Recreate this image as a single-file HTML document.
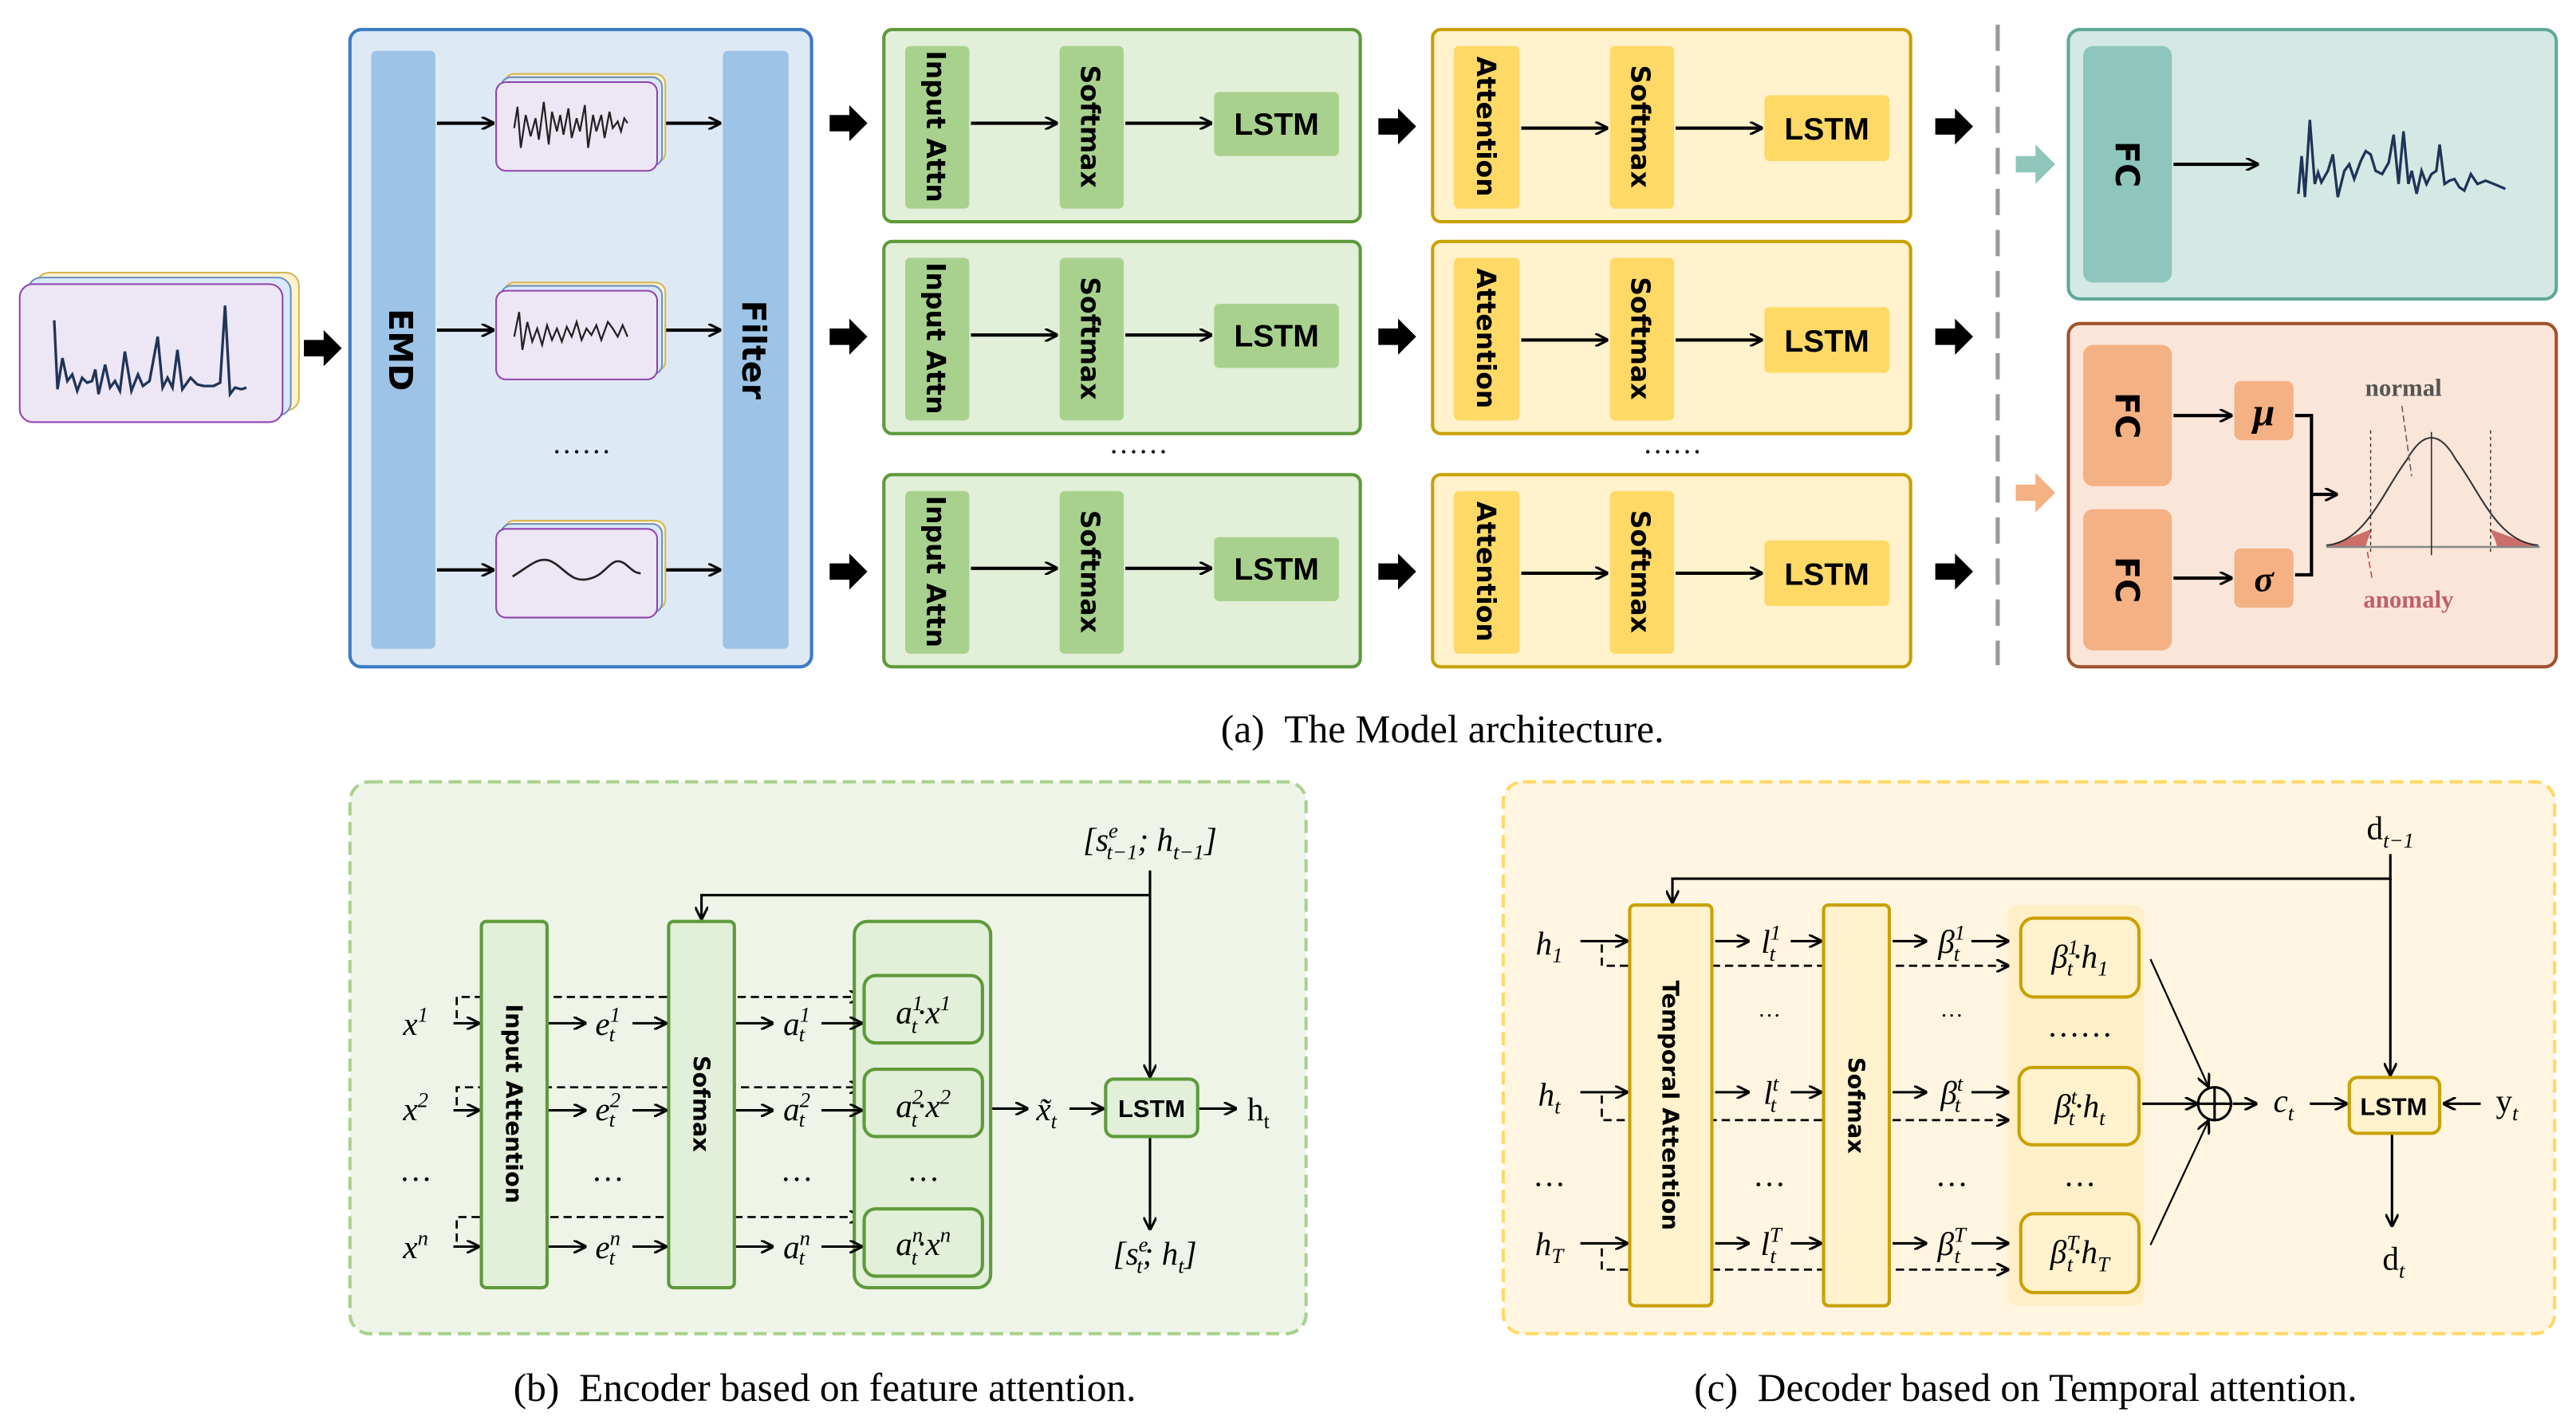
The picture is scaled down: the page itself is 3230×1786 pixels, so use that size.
<!DOCTYPE html>
<html><head><meta charset="utf-8"><style>
html,body{margin:0;padding:0;background:#fff}
svg{display:block}
.ss{font-family:"DejaVu Sans","Liberation Sans",sans-serif;font-weight:bold}
.ln{font-family:"Liberation Sans",sans-serif;font-weight:bold}
.tm{font-family:"Liberation Serif",serif}
.it{font-family:"Liberation Serif",serif;font-style:italic}
</style></head><body>
<svg width="3230" height="1786" viewBox="0 0 1568 867" xmlns="http://www.w3.org/2000/svg">
<defs>
<marker id="a" markerWidth="8" markerHeight="8" refX="7" refY="4" orient="auto" markerUnits="userSpaceOnUse"><path d="M0,0 L8,4 L0,8" fill="none" stroke="#000" stroke-width="1.5"/></marker>
<g id="blk"><polygon points="0,-5 12,-5 12,-11 23,0 12,11 12,5 0,5" fill="#000"/></g>
</defs>

<!-- input stack -->
<rect x="22" y="166" width="160" height="84" rx="8" fill="#fff2cc" stroke="#d6b656"/>
<rect x="17" y="169" width="160" height="84" rx="8" fill="#dae8fc" stroke="#6c8ebf"/>
<rect x="12" y="173" width="160" height="84" rx="8" fill="#ede6f5" stroke="#8e44ad"/>
<polyline points="33,195 35,237 38,218 41,232 44,228 47,238 50,230 53,233 56,232 58,225 60,240 64,222 67,236 70,232 73,238 76,214 80,238 84,228 87,235 91,232 96,205 99,236 102,230 105,236 108,213 111,237 116,230 120,234 124,235 127,235 130,235 134,233 137,186 140,240 143,236 147,237 150,236" fill="none" stroke="#1f3458" stroke-width="1.6"/>
<use href="#blk" transform="translate(185,212)"/>

<!-- blue box -->
<rect x="213" y="18" width="281" height="388" rx="7" fill="#dde9f5" stroke="#3b7cc4" stroke-width="2"/>
<rect x="226" y="31" width="39" height="364" rx="3" fill="#9dc3e6"/>
<rect x="440" y="31" width="40" height="364" rx="3" fill="#9dc3e6"/>
<text class="ss" font-size="20" transform="translate(237,213) rotate(90)" text-anchor="middle">EMD</text>
<text class="ss" font-size="20" transform="translate(452,213) rotate(90)" text-anchor="middle">Filter</text>
<g stroke="#000" stroke-width="2" marker-end="url(#a)">
<line x1="266" y1="75" x2="300" y2="75"/><line x1="404" y1="75" x2="438" y2="75"/>
<line x1="266" y1="201" x2="300" y2="201"/><line x1="404" y1="201" x2="438" y2="201"/>
<line x1="266" y1="347" x2="300" y2="347"/><line x1="404" y1="347" x2="438" y2="347"/>
</g>
<g id="card">
<rect x="307" y="45" width="98" height="54" rx="6" fill="#fff2cc" stroke="#d6b656"/>
<rect x="305" y="47" width="98" height="54" rx="6" fill="#dae8fc" stroke="#6c8ebf"/>
<rect x="302" y="50" width="98" height="54" rx="6" fill="#ede6f5" stroke="#8e44ad"/>
</g>
<use href="#card" transform="translate(0,127)"/>
<use href="#card" transform="translate(0,272)"/>
<polyline points="313,78 315,65 317,90 320,70 323,83 326,72 328,85 331,62 334,88 336,68 339,80 341,70 343,82 346,66 348,84 351,72 353,80 356,64 358,90 361,70 363,80 366,70 368,84 371,68 373,78 376,74 378,80 380,72 382,75" fill="none" stroke="#222" stroke-width="1.1"/>
<polyline points="313,205 316,190 318,213 321,196 324,208 327,200 330,210 333,198 336,207 339,200 342,208 345,199 348,205 351,196 354,207 357,200 360,204 363,198 366,207 370,196 373,200 376,205 379,198 382,205" fill="none" stroke="#222" stroke-width="1.1"/>
<path d="M312,351 C322,345 328,338 336,342 C344,346 348,356 360,352 C370,349 372,338 380,343 C384,346 386,349 390,349" fill="none" stroke="#222" stroke-width="1.3"/>
<text class="tm" x="354" y="276" font-size="18" text-anchor="middle">……</text>

<use href="#blk" transform="translate(505,75)"/><use href="#blk" transform="translate(505,205)"/><use href="#blk" transform="translate(505,348)"/>
<use href="#blk" transform="translate(839,77)"/><use href="#blk" transform="translate(839,205)"/><use href="#blk" transform="translate(839,348)"/>
<use href="#blk" transform="translate(1178,77)"/><use href="#blk" transform="translate(1178,205)"/><use href="#blk" transform="translate(1178,348)"/>

<g id="grow">
<rect x="538" y="18" width="290" height="117" rx="5" fill="#e2efd9" stroke="#5e9a3b" stroke-width="2"/>
<rect x="551" y="28" width="39" height="99" rx="3" fill="#a9d18e"/>
<rect x="645" y="28" width="39" height="99" rx="3" fill="#a9d18e"/>
<rect x="739" y="56" width="76" height="39" rx="3" fill="#a9d18e"/>
<text class="ss" font-size="16" transform="translate(564,77) rotate(90)" text-anchor="middle">Input Attn</text>
<text class="ss" font-size="16" transform="translate(658,77) rotate(90)" text-anchor="middle">Softmax</text>
<text class="ln" x="777" y="82" font-size="19" text-anchor="middle">LSTM</text>
<line x1="591" y1="75" x2="643" y2="75" stroke="#000" stroke-width="2" marker-end="url(#a)"/>
<line x1="685" y1="75" x2="737" y2="75" stroke="#000" stroke-width="2" marker-end="url(#a)"/>
</g>
<use href="#grow" transform="translate(0,129)"/>
<use href="#grow" transform="translate(0,271)"/>
<text class="tm" x="693" y="276" font-size="18" text-anchor="middle">……</text>

<g id="yrow">
<rect x="872" y="18" width="291" height="117" rx="5" fill="#fff2cc" stroke="#c9a100" stroke-width="2"/>
<rect x="885" y="28" width="40" height="99" rx="3" fill="#ffd966"/>
<rect x="980" y="28" width="39" height="99" rx="3" fill="#ffd966"/>
<rect x="1074" y="58" width="76" height="40" rx="3" fill="#ffd966"/>
<text class="ss" font-size="16" transform="translate(899,77) rotate(90)" text-anchor="middle">Attention</text>
<text class="ss" font-size="16" transform="translate(993,77) rotate(90)" text-anchor="middle">Softmax</text>
<text class="ln" x="1112" y="85" font-size="19" text-anchor="middle">LSTM</text>
<line x1="926" y1="78" x2="978" y2="78" stroke="#000" stroke-width="2" marker-end="url(#a)"/>
<line x1="1020" y1="78" x2="1072" y2="78" stroke="#000" stroke-width="2" marker-end="url(#a)"/>
</g>
<use href="#yrow" transform="translate(0,129)"/>
<use href="#yrow" transform="translate(0,271)"/>
<text class="tm" x="1018" y="276" font-size="18" text-anchor="middle">……</text>

<line x1="1216" y1="15" x2="1216" y2="405" stroke="#999" stroke-width="2.5" stroke-dasharray="16,9"/>

<polygon points="1227,95 1239,95 1239,88 1251,100 1239,112 1239,105 1227,105" fill="#8fc6bb"/>
<polygon points="1227,295 1239,295 1239,288 1251,300 1239,312 1239,305 1227,305" fill="#f4b183"/>
<rect x="1259" y="18" width="297" height="164" rx="7" fill="#d4e9e4" stroke="#5ea99a" stroke-width="2"/>
<rect x="1268" y="28" width="54" height="144" rx="6" fill="#8fc6bb"/>
<text class="ss" font-size="20" transform="translate(1288,100) rotate(90)" text-anchor="middle">FC</text>
<line x1="1323" y1="100" x2="1374" y2="100" stroke="#000" stroke-width="2" marker-end="url(#a)"/>
<polyline points="1399,118 1401,95 1403,120 1406,73 1409,112 1411,105 1413,111 1417,104 1420,94 1423,120 1427,104 1430,100 1433,109 1437,98 1440,92 1443,94 1446,104 1450,106 1454,99 1457,82 1460,112 1463,80 1466,112 1468,104 1471,118 1474,104 1477,112 1480,106 1483,104 1485,88 1488,112 1491,110 1494,109 1497,114 1500,116 1504,106 1508,112 1513,110 1518,112 1525,115" fill="none" stroke="#1f3458" stroke-width="1.6"/>

<rect x="1259" y="197" width="297" height="209" rx="7" fill="#fae5d9" stroke="#a0522d" stroke-width="2"/>
<rect x="1268" y="210" width="54" height="86" rx="6" fill="#f4b183"/>
<rect x="1268" y="310" width="54" height="86" rx="6" fill="#f4b183"/>
<text class="ss" font-size="20" transform="translate(1288,253) rotate(90)" text-anchor="middle">FC</text>
<text class="ss" font-size="20" transform="translate(1288,353) rotate(90)" text-anchor="middle">FC</text>
<rect x="1360" y="232" width="36" height="36" rx="4" fill="#f4b183"/>
<rect x="1360" y="334" width="36" height="36" rx="4" fill="#f4b183"/>
<text class="it" x="1378" y="259" font-size="24" text-anchor="middle" font-weight="bold">μ</text>
<text class="it" x="1378" y="360" font-size="22" text-anchor="middle" font-weight="bold">σ</text>
<line x1="1323" y1="253" x2="1358" y2="253" stroke="#000" stroke-width="2" marker-end="url(#a)"/>
<line x1="1323" y1="352" x2="1358" y2="352" stroke="#000" stroke-width="2" marker-end="url(#a)"/>
<polyline points="1397,253 1407,253 1407,350 1397,350" fill="none" stroke="#000" stroke-width="2"/>
<line x1="1407" y1="301" x2="1422" y2="301" stroke="#000" stroke-width="2" marker-end="url(#a)"/>
<path d="M1416,333 L1440,333 C1441,328 1443,325 1444,322 Z" fill="#c0504d" opacity="0.8"/>
<path d="M1545,333 L1520,333 C1519,328 1517,325 1515,322 Z" fill="#c0504d" opacity="0.8"/>
<path d="M1416,332 C1440,330 1450,300 1465,280 C1475,262 1485,262 1495,280 C1510,300 1520,330 1545,332" fill="none" stroke="#333" stroke-width="1"/>
<line x1="1416" y1="333" x2="1546" y2="333" stroke="#888" stroke-width="1.2"/>
<line x1="1480" y1="263" x2="1480" y2="338" stroke="#333" stroke-width="0.8"/>
<line x1="1443" y1="262" x2="1443" y2="338" stroke="#333" stroke-width="0.7" stroke-dasharray="2,2"/>
<line x1="1516" y1="262" x2="1516" y2="338" stroke="#333" stroke-width="0.7" stroke-dasharray="2,2"/>
<line x1="1462" y1="247" x2="1468" y2="290" stroke="#666" stroke-width="0.8" stroke-dasharray="4,2"/>
<line x1="1441" y1="336" x2="1444" y2="353" stroke="#c0504d" stroke-width="0.8" stroke-dasharray="4,2"/>
<text class="tm" x="1463" y="241" font-size="15" font-weight="bold" fill="#555" text-anchor="middle">normal</text>
<text class="tm" x="1466" y="370" font-size="15" font-weight="bold" fill="#c0606a" text-anchor="middle">anomaly</text>

<text class="tm" x="878" y="452" font-size="24" text-anchor="middle">(a)&#160;&#160;The Model architecture.</text>

<!-- (b) encoder -->
<rect x="213" y="476" width="582" height="336" rx="12" fill="#eef5e8" stroke="#a9d18e" stroke-width="2" stroke-dasharray="8,4"/>
<g stroke="#000" stroke-width="1.3" fill="none" stroke-dasharray="5,3" marker-end="url(#a)">
<polyline points="278,620 278,607 524,607"/><polyline points="278,673 278,662 524,662"/><polyline points="278,756 278,741 524,741"/>
</g>
<rect x="293" y="561" width="40" height="223" rx="3" fill="#e2efd9" stroke="#5e9a3b" stroke-width="2"/>
<rect x="407" y="561" width="40" height="223" rx="3" fill="#e2efd9" stroke="#5e9a3b" stroke-width="2"/>
<rect x="520" y="561" width="83" height="223" rx="8" fill="#e2efd9" stroke="#5e9a3b" stroke-width="2"/>
<g fill="#e2efd9" stroke="#5e9a3b" stroke-width="2">
<rect x="526" y="594" width="72" height="41" rx="7"/><rect x="526" y="651" width="72" height="41" rx="7"/><rect x="526" y="736" width="72" height="41" rx="7"/>
<rect x="673" y="657" width="56" height="35" rx="5"/>
</g>
<text class="ss" font-size="14" transform="translate(308,672) rotate(90)" text-anchor="middle">Input Attention</text>
<text class="ss" font-size="14" transform="translate(422,672) rotate(90)" text-anchor="middle">Sofmax</text>
<text class="ln" x="701" y="680" font-size="15" text-anchor="middle">LSTM</text>
<g class="it" font-size="20" text-anchor="middle">
<text x="562" y="623">a<tspan font-size="13" dy="-8">1</tspan><tspan font-size="13" dx="-7" dy="14">t</tspan><tspan dy="-6">·x</tspan><tspan font-size="13" dy="-8">1</tspan></text>
<text x="562" y="680">a<tspan font-size="13" dy="-8">2</tspan><tspan font-size="13" dx="-7" dy="14">t</tspan><tspan dy="-6">·x</tspan><tspan font-size="13" dy="-8">2</tspan></text>
<text x="562" y="764">a<tspan font-size="13" dy="-8">n</tspan><tspan font-size="13" dx="-7" dy="14">t</tspan><tspan dy="-6">·x</tspan><tspan font-size="13" dy="-8">n</tspan></text>
<text x="253" y="630">x<tspan font-size="13" dy="-8">1</tspan></text>
<text x="253" y="682">x<tspan font-size="13" dy="-8">2</tspan></text>
<text x="253" y="766">x<tspan font-size="13" dy="-8">n</tspan></text>
<text x="370" y="630">e<tspan font-size="13" dy="-8">1</tspan><tspan font-size="13" dx="-7" dy="12">t</tspan></text>
<text x="370" y="682">e<tspan font-size="13" dy="-8">2</tspan><tspan font-size="13" dx="-7" dy="12">t</tspan></text>
<text x="370" y="766">e<tspan font-size="13" dy="-8">n</tspan><tspan font-size="13" dx="-7" dy="12">t</tspan></text>
<text x="485" y="630">a<tspan font-size="13" dy="-8">1</tspan><tspan font-size="13" dx="-7" dy="12">t</tspan></text>
<text x="485" y="682">a<tspan font-size="13" dy="-8">2</tspan><tspan font-size="13" dx="-7" dy="12">t</tspan></text>
<text x="485" y="766">a<tspan font-size="13" dy="-8">n</tspan><tspan font-size="13" dx="-7" dy="12">t</tspan></text>
<text x="637" y="682">x̃<tspan font-size="13" dy="5">t</tspan></text>
<text x="700" y="518">[s<tspan font-size="13" dy="-8">e</tspan><tspan font-size="13" dx="-7" dy="13">t−1</tspan><tspan dy="-5">; h</tspan><tspan font-size="13" dy="5">t−1</tspan><tspan dy="-5">]</tspan></text>
<text x="703" y="770">[s<tspan font-size="13" dy="-8">e</tspan><tspan font-size="13" dx="-7" dy="13">t</tspan><tspan dy="-5">; h</tspan><tspan font-size="13" dy="5">t</tspan><tspan dy="-5">]</tspan></text>
</g>
<text class="tm" x="766" y="682" font-size="20" text-anchor="middle">h<tspan font-size="13" dy="5">t</tspan></text>
<g class="tm" font-size="20" text-anchor="middle"><text x="253" y="719">…</text><text x="370" y="719">…</text><text x="485" y="719">…</text><text x="562" y="719">…</text></g>
<g stroke="#000" stroke-width="1.5" fill="none" marker-end="url(#a)">
<line x1="276" y1="623" x2="291" y2="623"/><line x1="334" y1="623" x2="356" y2="623"/><line x1="385" y1="623" x2="405" y2="623"/><line x1="448" y1="623" x2="470" y2="623"/><line x1="500" y1="623" x2="524" y2="623"/>
<line x1="276" y1="676" x2="291" y2="676"/><line x1="334" y1="676" x2="356" y2="676"/><line x1="385" y1="676" x2="405" y2="676"/><line x1="448" y1="676" x2="470" y2="676"/><line x1="500" y1="676" x2="524" y2="676"/>
<line x1="276" y1="759" x2="291" y2="759"/><line x1="334" y1="759" x2="356" y2="759"/><line x1="385" y1="759" x2="405" y2="759"/><line x1="448" y1="759" x2="470" y2="759"/><line x1="500" y1="759" x2="524" y2="759"/>
<line x1="604" y1="675" x2="625" y2="675"/><line x1="651" y1="675" x2="671" y2="675"/><line x1="730" y1="675" x2="752" y2="675"/>
<polyline points="700,530 700,545 427,545 427,559"/>
<line x1="700" y1="545" x2="700" y2="655"/>
<line x1="700" y1="693" x2="700" y2="748"/>
</g>
<text class="tm" x="502" y="853" font-size="24" text-anchor="middle">(b)&#160;&#160;Encoder based on feature attention.</text>

<!-- (c) decoder -->
<rect x="915" y="476" width="640" height="336" rx="12" fill="#fff5e1" stroke="#ffd966" stroke-width="2" stroke-dasharray="8,4"/>
<rect x="1222" y="551" width="83" height="244" rx="6" fill="#ffefc8"/>
<g stroke="#000" stroke-width="1.3" fill="none" stroke-dasharray="5,3" marker-end="url(#a)">
<polyline points="975,575 975,588 1222,588"/><polyline points="975,667 975,682 1222,682"/><polyline points="975,760 975,773 1222,773"/>
</g>
<rect x="992" y="551" width="50" height="244" rx="3" fill="#fff2cc" stroke="#c9a100" stroke-width="2"/>
<rect x="1110" y="551" width="40" height="244" rx="3" fill="#fff2cc" stroke="#c9a100" stroke-width="2"/>
<g fill="#fff2cc" stroke="#c9a100" stroke-width="2">
<rect x="1230" y="559" width="72" height="48" rx="8"/><rect x="1229" y="650" width="73" height="47" rx="8"/><rect x="1230" y="739" width="72" height="48" rx="8"/>
<rect x="1430" y="656" width="55" height="34" rx="5"/>
</g>
<text class="ss" font-size="14" transform="translate(1012,673) rotate(90)" text-anchor="middle">Temporal Attention</text>
<text class="ss" font-size="14" transform="translate(1125,673) rotate(90)" text-anchor="middle">Sofmax</text>
<text class="ln" x="1457" y="679" font-size="15" text-anchor="middle">LSTM</text>
<g class="it" font-size="20" text-anchor="middle">
<text x="943" y="581">h<tspan font-size="13" dy="5">1</tspan></text>
<text x="943" y="673">h<tspan font-size="13" dy="5">t</tspan></text>
<text x="943" y="764">h<tspan font-size="13" dy="5">T</tspan></text>
<text x="1078" y="580">l<tspan font-size="13" dy="-8">1</tspan><tspan font-size="13" dx="-7" dy="13">t</tspan></text>
<text x="1078" y="672">l<tspan font-size="13" dy="-8">t</tspan><tspan font-size="13" dx="-5" dy="13">t</tspan></text>
<text x="1078" y="764">l<tspan font-size="13" dy="-8">T</tspan><tspan font-size="13" dx="-7" dy="13">t</tspan></text>
<text x="1188" y="580">β<tspan font-size="13" dy="-8">1</tspan><tspan font-size="13" dx="-7" dy="13">t</tspan></text>
<text x="1188" y="672">β<tspan font-size="13" dy="-8">t</tspan><tspan font-size="13" dx="-5" dy="13">t</tspan></text>
<text x="1188" y="764">β<tspan font-size="13" dy="-8">T</tspan><tspan font-size="13" dx="-7" dy="13">t</tspan></text>
<text x="1266" y="589">β<tspan font-size="13" dy="-8">1</tspan><tspan font-size="13" dx="-7" dy="13">t</tspan><tspan dy="-5">·h</tspan><tspan font-size="13" dy="5">1</tspan></text>
<text x="1266" y="680">β<tspan font-size="13" dy="-8">t</tspan><tspan font-size="13" dx="-5" dy="13">t</tspan><tspan dy="-5">·h</tspan><tspan font-size="13" dy="5">t</tspan></text>
<text x="1266" y="769">β<tspan font-size="13" dy="-8">T</tspan><tspan font-size="13" dx="-7" dy="13">t</tspan><tspan dy="-5">·h</tspan><tspan font-size="13" dy="5">T</tspan></text>
<text x="1390" y="677">c<tspan font-size="13" dy="5">t</tspan></text>
</g>
<g class="tm" font-size="20" text-anchor="middle">
<text x="1455" y="511">d<tspan class="it" font-size="13" dy="5">t−1</tspan></text>
<text x="1457" y="773">d<tspan class="it" font-size="13" dy="5">t</tspan></text>
<text x="1526" y="677">y<tspan class="it" font-size="13" dy="5">t</tspan></text>
<text x="943" y="722">…</text><text x="1077" y="722">…</text><text x="1188" y="722">…</text><text x="1266" y="722">…</text>
<text x="1266" y="631">……</text>
</g>
<g class="tm" font-size="14" text-anchor="middle"><text x="1077" y="619">…</text><text x="1188" y="619">…</text></g>
<g stroke="#000" stroke-width="1.5" fill="none" marker-end="url(#a)">
<line x1="962" y1="573" x2="990" y2="573"/><line x1="1044" y1="573" x2="1064" y2="573"/><line x1="1090" y1="573" x2="1108" y2="573"/><line x1="1152" y1="573" x2="1172" y2="573"/><line x1="1200" y1="573" x2="1222" y2="573"/>
<line x1="962" y1="665" x2="990" y2="665"/><line x1="1044" y1="665" x2="1064" y2="665"/><line x1="1090" y1="665" x2="1108" y2="665"/><line x1="1152" y1="665" x2="1172" y2="665"/><line x1="1200" y1="665" x2="1222" y2="665"/>
<line x1="962" y1="757" x2="990" y2="757"/><line x1="1044" y1="757" x2="1064" y2="757"/><line x1="1090" y1="757" x2="1108" y2="757"/><line x1="1152" y1="757" x2="1172" y2="757"/><line x1="1200" y1="757" x2="1222" y2="757"/>
<polyline points="1455,520 1455,535 1018,535 1018,549"/>
<line x1="1455" y1="535" x2="1455" y2="654"/>
<line x1="1456" y1="691" x2="1456" y2="746"/>
<line x1="1510" y1="672" x2="1488" y2="672"/>
<line x1="1309" y1="584" x2="1344" y2="661" stroke-width="1.1"/>
<line x1="1309" y1="758" x2="1344" y2="683" stroke-width="1.1"/>
<line x1="1304" y1="672" x2="1337" y2="672"/>
<line x1="1359" y1="672" x2="1373" y2="672"/>
<line x1="1406" y1="672" x2="1428" y2="672"/>
</g>
<circle cx="1348" cy="672" r="10" fill="none" stroke="#000" stroke-width="1.5"/>
<line x1="1338" y1="672" x2="1358" y2="672" stroke="#000" stroke-width="1.5"/>
<line x1="1348" y1="662" x2="1348" y2="682" stroke="#000" stroke-width="1.5"/>
<text class="tm" x="1233" y="853" font-size="24" text-anchor="middle">(c)&#160;&#160;Decoder based on Temporal attention.</text>
</svg>
</body></html>
